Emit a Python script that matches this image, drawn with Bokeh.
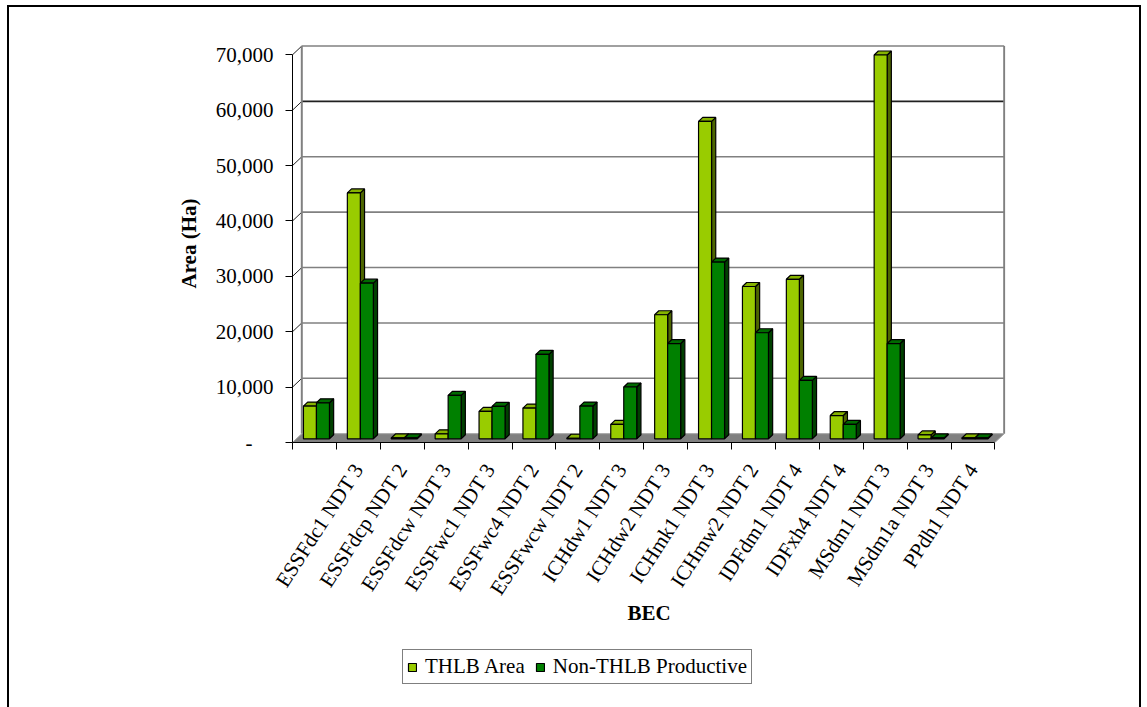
import math

from bokeh.plotting import figure
from bokeh.layouts import column
from bokeh.models import FixedTicker, Legend, LegendItem
from bokeh.embed import file_html
from bokeh.resources import INLINE

# ---- data -------------------------------------------------------------
categories = ["", "ESSFdc1 NDT 3", "ESSFdcp NDT 2", "ESSFdcw NDT 3", "ESSFwc1 NDT 3",
              "ESSFwc4 NDT 2", "ESSFwcw NDT 2", "ICHdw1 NDT 3", "ICHdw2 NDT 3",
              "ICHmk1 NDT 3", "ICHmw2 NDT 2", "IDFdm1 NDT 4", "IDFxh4 NDT 4",
              "MSdm1 NDT 3", "MSdm1a NDT 3", "PPdh1 NDT 4"]
thlb_area = [5900, 44400, 150, 900, 4950, 5550, 100, 2600, 22400, 57300,
             27500, 28800, 4200, 69300, 700, 150]
non_thlb_productive = [6500, 28100, 150, 7850, 5850, 15250, 5900, 9350, 17200, 31900,
                       19150, 10550, 2600, 17200, 150, 150]
series_names = ["THLB Area", "Non-THLB Productive"]
series_colors = ["#99CC00", "#008000"]
y_ticks = [0, 10000, 20000, 30000, 40000, 50000, 60000, 70000]
y_tick_labels = ["-\u00a0\u00a0\u00a0\u00a0", "10,000", "20,000", "30,000", "40,000",
                 "50,000", "60,000", "70,000"]

# ---- layout (pixels) ----------------------------------------------------
W, H = 1147, 707
H_MAIN = 645                  # chart part; the legend strip fills the rest
FRAME_L, FRAME_R, FRAME_T, FRAME_B = 292, 1005, 44, 442
CAT_PX = 43.9                 # pixels per category
VAL_PX = 387.7 / 70000.0      # pixels per hectare

def px_x(px):
    return px / CAT_PX

def px_y(px):
    return px / VAL_PX

n = len(categories)
x_lo, x_hi = 0.5, n + 0.5
x_end = x_lo + (FRAME_R - FRAME_L) / CAT_PX
y_end = (FRAME_B - FRAME_T) / VAL_PX
y_top = y_ticks[-1]

# pseudo-3D depth offsets
FLOOR_DX, FLOOR_DY = px_x(9.3), px_y(8.8)
BAR_OX, BAR_OY = px_x(2.0), px_y(3.7)
BAR_DX, BAR_DY = px_x(4.2), px_y(4.0)
BAR_W = px_x(13.0)

FONT = "Liberation Serif"
FS = "21px"

# chart-area border lines painted behind the transparent canvases
LINE = "linear-gradient(#000,#000)"
main_bg = (f"{LINE} 7px 5px / 2px {H_MAIN}px no-repeat, "
           f"{LINE} 7px 5px / 1134px 2px no-repeat, "
           f"{LINE} 1139px 5px / 2px {H_MAIN}px no-repeat, #ffffff")
strip_bg = (f"{LINE} 7px 0px / 2px 100% no-repeat, "
            f"{LINE} 1139px 0px / 2px 100% no-repeat, #ffffff")

p = figure(width=W, height=H_MAIN, x_range=(x_lo, x_end), y_range=(0, y_end),
           output_backend="svg", toolbar_location=None,
           min_border_left=FRAME_L, min_border_right=W - FRAME_R,
           min_border_top=FRAME_T, min_border_bottom=H_MAIN - FRAME_B)
p.background_fill_color = "white"
p.border_fill_color = None
p.outline_line_color = None
p.xgrid.visible = False
p.ygrid.visible = False
p.styles = {"background": main_bg}

# ---- walls and floor ------------------------------------------------------
grid_vals = y_ticks[1:]
p.segment(x0=[x_lo] * len(grid_vals), y0=grid_vals,
          x1=[x_lo + FLOOR_DX] * len(grid_vals), y1=[v + FLOOR_DY for v in grid_vals],
          line_color="#202020", line_width=1)
p.segment(x0=[x_lo + FLOOR_DX] * len(grid_vals), y0=[v + FLOOR_DY for v in grid_vals],
          x1=[x_hi + FLOOR_DX] * len(grid_vals), y1=[v + FLOOR_DY for v in grid_vals],
          line_color=["#202020" if v == 60000 else "#808080" for v in grid_vals],
          line_width=1.6)
p.segment(x0=[x_lo + FLOOR_DX, x_hi + FLOOR_DX], y0=[FLOOR_DY, FLOOR_DY],
          x1=[x_lo + FLOOR_DX, x_hi + FLOOR_DX], y1=[y_top + FLOOR_DY, y_top + FLOOR_DY],
          line_color="#808080", line_width=2)
p.patch(x=[x_lo, x_hi, x_hi + FLOOR_DX, x_lo + FLOOR_DX],
        y=[0, 0, FLOOR_DY, FLOOR_DY],
        fill_color="#808080", line_color="#a0a0a0", line_width=1)

# ---- bars ---------------------------------------------------------------
def draw_series(values, offset, front, top, side):
    lefts, rights, bottoms, tops = [], [], [], []
    top_xs, top_ys, side_xs, side_ys = [], [], [], []
    for i, v in enumerate(values):
        c = i + 1
        l = c + offset * BAR_W + BAR_OX
        r = l + BAR_W
        b = BAR_OY
        t = BAR_OY + v
        lefts.append(l); rights.append(r); bottoms.append(b); tops.append(t)
        top_xs.append([l, r, r + BAR_DX, l + BAR_DX])
        top_ys.append([t, t, t + BAR_DY, t + BAR_DY])
        side_xs.append([r, r + BAR_DX, r + BAR_DX, r])
        side_ys.append([b, b + BAR_DY, t + BAR_DY, t])
    p.patches(xs=side_xs, ys=side_ys, fill_color=side, line_color="black", line_width=1.2)
    p.patches(xs=top_xs, ys=top_ys, fill_color=top, line_color="black", line_width=1.2)
    p.quad(left=lefts, right=rights, bottom=bottoms, top=tops,
           fill_color=front, line_color="black", line_width=1.2)

draw_series(thlb_area, -1, series_colors[0], "#86B300", "#4D6600")
draw_series(non_thlb_productive, 0, series_colors[1], "#006A00", "#004000")

# ---- axes ---------------------------------------------------------------
yax = p.yaxis[0]
yax.bounds = (0, y_top)
yax.ticker = FixedTicker(ticks=y_ticks)
yax.major_label_overrides = {t: lab for t, lab in zip(y_ticks, y_tick_labels)}
yax.major_tick_out = 7
yax.major_tick_in = 0
yax.minor_tick_line_color = None
yax.axis_line_color = "black"
yax.major_tick_line_color = "black"
yax.major_label_standoff = 12
yax.major_label_text_font = FONT
yax.major_label_text_font_size = FS
yax.major_label_text_color = "black"
yax.axis_label = "Area (Ha)"
yax.axis_label_text_font = FONT
yax.axis_label_text_font_size = FS
yax.axis_label_text_font_style = "bold"
yax.axis_label_text_color = "black"
yax.axis_label_standoff = 12

xax = p.xaxis[0]
xax.bounds = (x_lo, x_hi)
xax.ticker = FixedTicker(ticks=list(range(1, n + 1)),
                         minor_ticks=[k + 0.5 for k in range(0, n + 1)])
xax.major_label_overrides = {i + 1: name for i, name in enumerate(categories)}
xax.major_tick_in = 0
xax.major_tick_out = 0
xax.major_tick_line_color = None
xax.minor_tick_in = 0
xax.minor_tick_out = 7
xax.minor_tick_line_color = "black"
xax.axis_line_color = "black"
xax.major_label_orientation = math.radians(57)
xax.major_label_standoff = 16
xax.major_label_text_font = FONT
xax.major_label_text_font_size = FS
xax.major_label_text_color = "black"
xax.axis_label = "BEC"
xax.axis_label_text_font = FONT
xax.axis_label_text_font_size = FS
xax.axis_label_text_font_style = "bold"
xax.axis_label_text_color = "black"
xax.axis_label_standoff = -8

# ---- legend strip -------------------------------------------------------
# (its frame is aligned with the chart's frame by the column layout)
H_LEG = H - H_MAIN
lg = figure(width=W, height=H_LEG, x_range=(0, 1), y_range=(0, 1),
            output_backend="svg", toolbar_location=None,
            x_axis_location=None, y_axis_location=None, min_border=0)
lg.background_fill_color = None
lg.border_fill_color = None
lg.outline_line_color = None
lg.xgrid.visible = False
lg.ygrid.visible = False
lg.styles = {"background": strip_bg}

# swatch glyphs sit outside the visible range; only their legend entries show
swatches = [lg.quad(left=[-3], right=[-2], bottom=[-3], top=[-2], fill_color=c,
                    line_color="black", line_width=1.2) for c in series_colors]
legend = Legend(items=[LegendItem(label=name, renderers=[r])
                       for name, r in zip(series_names, swatches)],
                location=(402 - FRAME_L, H_LEG - (684 - H_MAIN)), orientation="horizontal",
                glyph_width=10, glyph_height=10, label_standoff=8, spacing=10,
                padding=4, margin=0, label_height=18,
                label_text_font=FONT, label_text_font_size=FS, label_text_color="black",
                border_line_color="black", border_line_width=1,
                background_fill_color="white", background_fill_alpha=1)
lg.add_layout(legend)

layout = column(p, lg, spacing=0)
open("out.html", "w").write(file_html(layout, INLINE))
